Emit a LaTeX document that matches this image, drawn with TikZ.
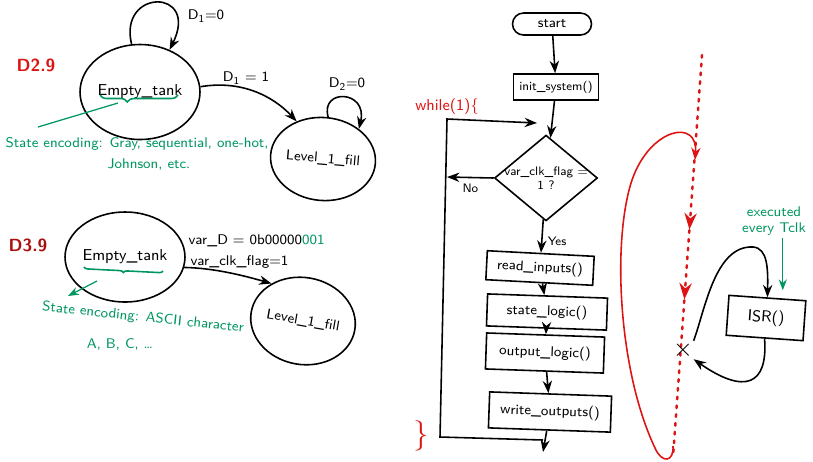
\documentclass[tikz,border=0pt]{standalone}
\usepackage{xcolor}
\usepackage{tikz}
\usetikzlibrary{arrows.meta,shapes.geometric,decorations.pathreplacing,decorations.markings}

\definecolor{inkgreen}{RGB}{0,150,95}
\definecolor{inkred}{RGB}{220,20,20}
\definecolor{darkred}{RGB}{170,15,15}

\begin{document}
\begin{tikzpicture}[x=0.02cm, y=-0.02cm,
  fsm/.style={draw, ellipse, inner sep=0pt, font=\small\sffamily},
  proc/.style={draw, inner sep=1pt, font=\footnotesize\sffamily},
  lbl/.style={font=\footnotesize\sffamily, inner sep=1pt},
  note/.style={text=inkgreen, font=\footnotesize\sffamily, inner sep=1pt},
  tag/.style={font=\sffamily\bfseries},
  >=Stealth, line width=0.9pt
]
  \useasboundingbox (0,0) rectangle (813,461);
  % D2.9 state diagram
  \node[tag, text=inkred] (d29) at (36,65) {D2.9};
  \node[fsm, minimum width=2.28cm, minimum height=1.9cm] (et1) at (140,92) {Empty\_tank};
  \node[fsm, minimum width=2.0cm, minimum height=1.66cm, rotate=-5, font=\footnotesize\sffamily] (lv1) at (323,159) {Level\_1\_fill};
  \draw[->] (et1.100) .. controls (118,-12) and (200,-12) .. (et1.55);
  \node[lbl] (l1) at (206,16) {D\textsubscript{1}=0};
  \draw[->] (et1.5) .. controls (240,80) and (272,95) .. (lv1.130);
  \node[lbl] (l2) at (246,78) {D\textsubscript{1} = 1};
  \draw[->] (lv1.88) .. controls (320,88) and (368,90) .. (lv1.45);
  \node[lbl] (l3) at (347,84) {D\textsubscript{2}=0};
  % encoding note
  \draw[inkgreen, decorate, decoration={brace, amplitude=4pt, mirror, aspect=0.35}] (100,95) -- (178,95);
  \coordinate (b1tip) at (118,103);
  \coordinate (e1) at (38,127);
  \draw[inkgreen, line width=0.7pt] (b1tip) -- (e1);
  \node[note, anchor=west] (enc1) at (3,144) {State encoding: Gray, sequential, one-hot,};
  \node[note, anchor=west] (enc1b) at (105,165) {Johnson, etc.};

  % D3.9 state diagram
  \node[tag, text=darkred] (d39) at (28,245) {D3.9};
  \node[fsm, minimum width=2.0cm, minimum height=1.8cm] (et2) at (125,257) {Empty\_tank};
  \node[fsm, minimum width=1.92cm, minimum height=1.74cm, rotate=-10, font=\footnotesize\sffamily] (lv2) at (303,321) {Level\_1\_fill};
  \draw[->] (et2.-10) .. controls (215,268) and (245,276) .. (lv2.140);
  \node[lbl, anchor=west] (l4) at (186,241) {var\_D = 0b00000\textcolor{inkgreen}{001}};
  \node[lbl, anchor=west] (l5) at (188,262) {var\_clk\_flag=1};
  \draw[inkgreen, decorate, decoration={brace, amplitude=2pt, mirror, aspect=0.5}] (84,267) -- (163,271);
  \coordinate (b2s) at (97,281);
  \coordinate (a2) at (68,296);
  \draw[->, inkgreen, line width=0.7pt] (b2s) -- (a2);
  \node[note, rotate=-6] (enc2) at (143,318) {State encoding: ASCII character};
  \node[note] (enc2b) at (120,344) {A, B, C, \dots};

  % flowchart
  \node[proc, rounded corners=0.22cm, minimum width=1.58cm, minimum height=0.44cm] (start) at (552,24) {start};
  \node[proc, minimum width=1.7cm, minimum height=0.52cm, font=\scriptsize\sffamily] (init) at (556,87) {init\_system()};
  \node[draw, diamond, aspect=1.2, inner sep=-1pt, align=center, font=\scriptsize\sffamily] (cond) at (546,178) {var\_clk\_flag =\\1 ?};
  \node[proc, minimum width=2.14cm, minimum height=0.58cm, rotate=-3] (rd) at (540,268) {read\_inputs()};
  \node[proc, minimum width=2.4cm, minimum height=0.64cm, rotate=-2] (st) at (547,312) {state\_logic()};
  \node[proc, minimum width=2.36cm, minimum height=0.72cm, rotate=-2] (out) at (545,353) {output\_logic()};
  \node[proc, minimum width=2.44cm, minimum height=0.72cm, rotate=-2] (wr) at (550,412) {write\_outputs()};
  \draw[->] (start) -- (init);
  \draw[->] (init) -- (cond);
  \draw[->] (cond) -- (rd) node[pos=0.65, right=2pt, lbl, font=\scriptsize\sffamily] {Yes};
  \draw[->] (rd) -- (st);
  \draw[->] (st) -- (out);
  \draw[->] (out) -- (wr);
  \coordinate (exit) at (543,452);
  \draw[->] (wr) -- (exit);
  % main loop
  \coordinate (jn) at (543,440);
  \coordinate (bl) at (440,437);
  \coordinate (tl) at (447,119);
  \coordinate (wh) at (537,123);
  \coordinate (nol) at (447,177);
  \draw[->] (jn) -- (bl) -- (tl) -- (wh);
  \draw[->] (cond.west) -- (nol) node[midway, below=2pt, lbl, font=\scriptsize\sffamily] {No};
  \node[text=inkred, font=\small\sffamily] (wh1) at (447,107) {while(1)\{};
  \node[text=inkred, font=\LARGE\sffamily] (wh2) at (421,436) {\}};

  % interrupt
  \coordinate (dtop) at (702,55);
  \coordinate (dbot) at (673,457);
  \draw[inkred, line width=1.4pt, dash pattern=on 1.5pt off 3.5pt, line cap=round,
        postaction={decorate, decoration={markings,
          mark=at position 0.434 with {\arrow{Stealth}},
          mark=at position 0.608 with {\arrow{Stealth}}}}] (dtop) -- (dbot);
  \coordinate (rb) at (673,446);
  \coordinate (rt) at (695,160);
  \draw[->, inkred] (rb) .. controls (674,462) and (662,464) .. (655,448)
        .. controls (618,370) and (612,240) .. (632,180)
        .. controls (650,128) and (698,118) .. (rt);
  \node[inner sep=0pt, font=\Large] (irq) at (683,350) {$\times$};
  \node[proc, minimum width=1.54cm, minimum height=0.8cm, rotate=-4, font=\small\sffamily] (isr) at (766,318) {ISR()};
  \draw[->] (irq.north east) .. controls (705,310) and (715,245) .. (753,247)
        .. controls (768,248) and (768,270) .. (isr.north);
  \draw[->] (isr.south) .. controls (768,385) and (745,395) .. (irq.south east);
  \node[note, align=center] (exec) at (774,221) {executed\\every Tclk};
  \draw[->, inkgreen, line width=0.7pt] ([xshift=5pt]exec.south) -- ([xshift=5pt,yshift=4pt]exec.south |- isr.north);
\end{tikzpicture}
\end{document}
